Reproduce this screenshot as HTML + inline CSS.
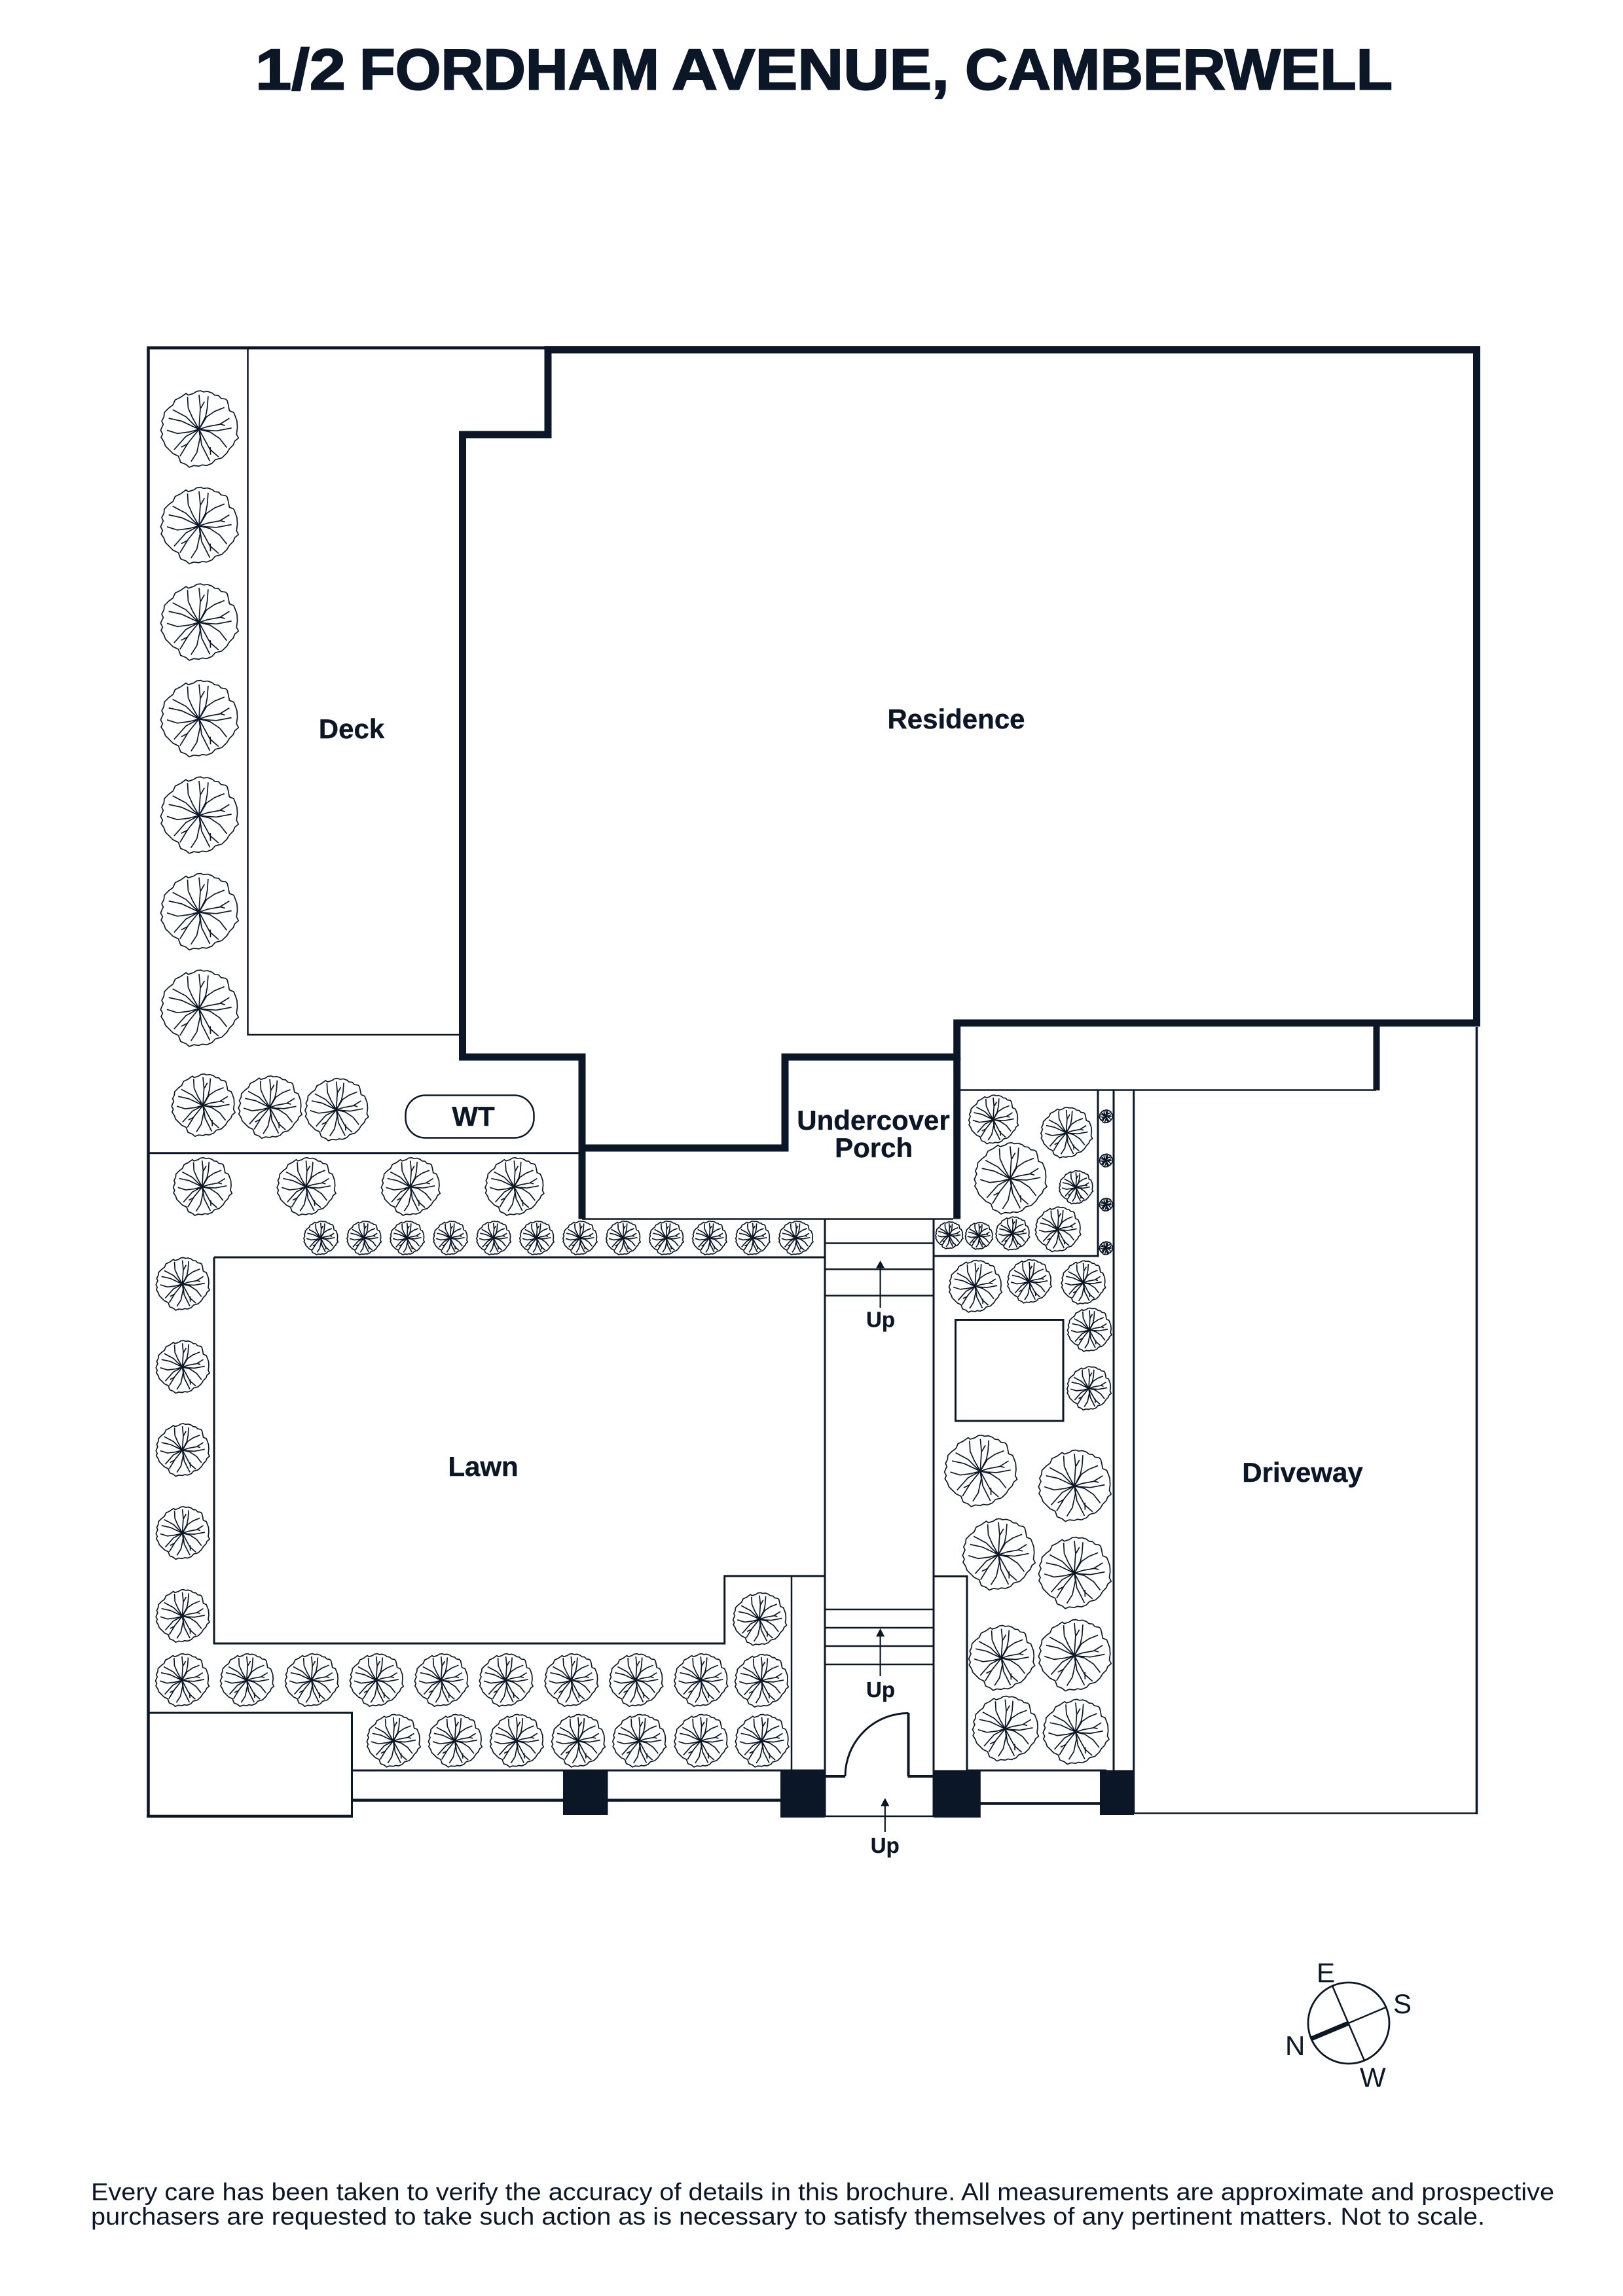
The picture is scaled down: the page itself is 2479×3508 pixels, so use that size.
<!DOCTYPE html>
<html lang="en">
<head>
<meta charset="utf-8">
<title>1/2 Fordham Avenue, Camberwell</title>
<style>
html,body{margin:0;padding:0;background:#fff}
svg{display:block}
text{font-family:"Liberation Sans",Arial,sans-serif;fill:#0b1727}
.b{font-weight:700;font-size:42px;text-anchor:middle;stroke:#0b1727;stroke-width:.4px}
.u{font-weight:700;font-size:33px;text-anchor:middle;stroke:#0b1727;stroke-width:.3px}
.c{font-size:42px}
.f{font-size:37px}
.ti{font-size:88px;font-weight:700;stroke:#0b1727;stroke-width:2px}
.l{fill:none;stroke:#0b1727;stroke-width:2.5}
.m{fill:none;stroke:#0b1727;stroke-width:3}
.h{fill:none;stroke:#0b1727;stroke-width:4.5}
.w{fill:none;stroke:#0b1727;stroke-width:11;stroke-linejoin:miter;stroke-linecap:butt}
.tr path{vector-effect:non-scaling-stroke;stroke:#0b1727;stroke-width:1.7;stroke-linejoin:round;stroke-linecap:butt}
</style>
</head>
<body>
<svg xmlns="http://www.w3.org/2000/svg" width="2479" height="3508" viewBox="0 0 2479 3508">
<defs>
<g id="t" class="tr">
<path fill="#fff" d="M8 -178L20 -173 40 -175 60 -168 72 -158 90 -156 102 -143 122 -140 130 -133 135 -113 140 -86 160 -78 168 -58 175 -38 177 -8 173 22 182 40 165 54 158 72 140 90 128 110 105 132 75 140 60 157 35 167 15 164 0 170 -25 167 -45 175 -60 162 -85 152 -95 124 -120 112 -140 92 -155 77 -162 57 -175 37 -168 22 -177 4 -170 -13 -165 -23 -172 -38 -162 -58 -160 -78 -140 -98 -120 -113 -110 -136 -85 -148 -60 -166 -50 -158 -25 -166 -10 -176Z"/>
<path fill="none" d="M0 0L-30 -53 -50 -98 -53 -150M0 0L2 -38 6 -98 0 -160M8 -98L25 -128M0 0L30 -58 38 -98 42 -153M0 0L35 -58 72 -83 117 -101M0 0L40 -13 95 -23 140 -51M95 -25L120 -18M0 0L35 4 80 7 150 -6M0 0L50 12 95 42 128 84M0 0L12 22 50 92 90 127M52 82L53 117M0 0L5 22 12 72 50 147M0 0L5 37 -10 107 -37 149M0 0L-50 62 -88 124M-52 67L-82 82M0 0L-60 32 -115 94M0 0L-45 12 -100 19 -148 4M0 0L-80 -38 -140 -51M0 0L-25 -23 -60 -58 -122 -91"/>
</g>
<g id="r59"><use href="#t" transform="scale(.331)"/></g>
<g id="r55"><use href="#t" transform="scale(.309)"/></g>
<g id="r50"><use href="#t" transform="scale(.281)"/></g>
<g id="r48"><use href="#t" transform="scale(.27)"/></g>
<g id="r44"><use href="#t" transform="scale(.25)"/></g>
<g id="r40"><use href="#t" transform="scale(.228)"/></g>
<g id="r33"><use href="#t" transform="scale(.188)"/></g>
<g id="r26"><use href="#t" transform="scale(.146)"/></g>
<g id="r21"><use href="#t" transform="scale(.117)"/></g>
<g id="r10"><use href="#t" transform="scale(.056)"/></g>
</defs>

<text class="ti" x="390" y="136.5" textLength="138" lengthAdjust="spacingAndGlyphs">1/2</text>
<text class="ti" x="549" y="136.5" textLength="458" lengthAdjust="spacingAndGlyphs">FORDHAM</text>
<text class="ti" x="1026" y="136.5" textLength="424" lengthAdjust="spacingAndGlyphs">AVENUE,</text>
<text class="ti" x="1474" y="136.5" textLength="653" lengthAdjust="spacingAndGlyphs">CAMBERWELL</text>

<!-- site lines -->
<path class="h" d="M226.5 2777V531.5H835"/>
<path class="l" d="M378.5 531V1581H702"/>
<path class="m" d="M226 1761.7H884"/>
<path class="l" d="M889 1862.5H1456"/>
<path class="m" d="M327 1921H1260"/>
<path class="m" d="M327 1921V2511H1106.7V2408H1260"/>
<path class="l" d="M1209 2408V2705"/>
<path class="m" d="M1260 1862V2776M1426 1862V2776"/>
<path class="l" d="M1260 1899.5H1426M1260 1939.3H1426M1260 1979.5H1426M1260 2459H1426M1260 2487H1426M1260 2515H1426M1260 2543H1426M1260 2775H1426"/>
<path class="m" d="M1426 2408.5H1477V2705"/>
<path class="m" d="M1427 1919H1677V1666"/>
<path class="l" d="M1467 1665.5H2102"/>
<path class="m" d="M1701 1666V2705M1731.7 1666V2771"/>
<path d="M2255.5 1569V2772" fill="none" stroke="#0b1727" stroke-width="3.5"/>
<path class="l" d="M1731 2770.5H2256"/>
<rect x="1459.5" y="2016.5" width="164.5" height="154.5" class="m"/>
<path class="m" d="M226 2617H537.5V2775"/>
<path class="h" d="M224 2775H539"/>
<path class="m" d="M537 2705H1260M1477 2705H1690"/>
<path class="h" d="M537 2750.5H865M925 2750.5H1195M1495 2755.5H1682"/>
<path d="M1260 2714H1291M1386.5 2714H1426M1387.5 2714V2617" fill="none" stroke="#0b1727" stroke-width="4"/>
<path class="m" d="M1291 2714A96.5 96.5 0 0 1 1387.5 2617.5"/>
<rect x="619.5" y="1673.5" width="196" height="65" rx="30" ry="30" class="l"/>

<!-- building -->
<path class="w" d="M837 534.5H2255.5V1563H1461.7V1615H1199V1754H889V1615H706.5V664H837Z"/>
<path class="w" d="M889 1754V1862.5M1461.7 1615V1862.5"/>
<path d="M2102.5 1563V1666" fill="none" stroke="#0b1727" stroke-width="10"/>

<!-- pillars -->
<rect x="860" y="2705" width="68.5" height="68" fill="#0b1727"/>
<rect x="1192" y="2704.5" width="67.8" height="72.5" fill="#0b1727"/>
<rect x="1426" y="2704.5" width="71.8" height="72.5" fill="#0b1727"/>
<rect x="1680" y="2704.5" width="52" height="68.5" fill="#0b1727"/>

<!-- trees -->
<use href="#r59" x="304" y="656"/><use href="#r59" x="304" y="803.5"/><use href="#r59" x="304" y="951"/><use href="#r59" x="304" y="1098.5"/><use href="#r59" x="304" y="1246"/><use href="#r59" x="304" y="1393.5"/><use href="#r59" x="304" y="1541"/>
<use href="#r48" x="310" y="1689"/><use href="#r48" x="412" y="1692"/><use href="#r48" x="513.7" y="1695.7"/>
<use href="#r44" x="308.8" y="1813.3"/><use href="#r44" x="467.4" y="1813.3"/><use href="#r44" x="626.7" y="1813.3"/><use href="#r44" x="785.3" y="1813.3"/>
<use href="#r26" x="489.8" y="1891.7"/><use href="#r26" x="555.8" y="1891.7"/><use href="#r26" x="621.7" y="1891.7"/><use href="#r26" x="687.7" y="1891.7"/><use href="#r26" x="753.7" y="1891.7"/><use href="#r26" x="819.6" y="1891.7"/><use href="#r26" x="885.6" y="1891.7"/><use href="#r26" x="951.6" y="1891.7"/><use href="#r26" x="1017.5" y="1891.7"/><use href="#r26" x="1083.5" y="1891.7"/><use href="#r26" x="1149.5" y="1891.7"/><use href="#r26" x="1215.4" y="1891.7"/>
<use href="#r40" x="278.6" y="1962"/><use href="#r40" x="278.6" y="2088.8"/><use href="#r40" x="278.6" y="2215.7"/><use href="#r40" x="278.6" y="2342.5"/><use href="#r40" x="278.6" y="2469.3"/>
<use href="#r40" x="277.9" y="2567.3"/><use href="#r40" x="376.8" y="2567.3"/><use href="#r40" x="475.8" y="2567.3"/><use href="#r40" x="574.7" y="2567.3"/><use href="#r40" x="673.7" y="2567.3"/><use href="#r40" x="772.6" y="2567.3"/><use href="#r40" x="872.3" y="2567.3"/><use href="#r40" x="971.2" y="2567.3"/><use href="#r40" x="1070.2" y="2567.3"/><use href="#r40" x="1162.8" y="2568.3"/>
<use href="#r40" x="600.7" y="2660"/><use href="#r40" x="694.7" y="2660"/><use href="#r40" x="788.8" y="2660"/><use href="#r40" x="882.8" y="2660"/><use href="#r40" x="976.1" y="2660"/><use href="#r40" x="1070.2" y="2660"/><use href="#r40" x="1163.5" y="2660"/>
<use href="#r40" x="1160" y="2474"/>
<g><use href="#t" transform="translate(1517 1710.7) scale(.211)"/>
<use href="#t" transform="translate(1628.6 1730.8) scale(.219)"/>
<use href="#r55" x="1542.9" y="1800.9"/>
<use href="#t" transform="translate(1643.3 1814.3) scale(.144)"/>
<use href="#t" transform="translate(1615.6 1878.6) scale(.194)"/>
<use href="#t" transform="translate(1546.4 1884.8) scale(.144)"/>
<use href="#r21" x="1495.1" y="1888.4"/><use href="#r21" x="1449.6" y="1887.5"/></g>
<use href="#r10" x="1689.3" y="1705.8"/><use href="#r10" x="1689.3" y="1773.2"/><use href="#r10" x="1689.3" y="1840.6"/><use href="#r10" x="1689.3" y="1907.1"/>
<use href="#t" transform="translate(1489.3 1965.6) scale(.225)"/>
<use href="#r33" x="1571.9" y="1958"/><use href="#r33" x="1654.5" y="1959.8"/><use href="#r33" x="1663.8" y="2032"/><use href="#r33" x="1663" y="2121.4"/>
<use href="#r55" x="1497.3" y="2247.8"/><use href="#r55" x="1641" y="2270.5"/><use href="#r55" x="1525" y="2375.4"/><use href="#r55" x="1641" y="2403.6"/>
<use href="#r50" x="1529.5" y="2533.5"/><use href="#r55" x="1641" y="2529.5"/><use href="#r50" x="1535.3" y="2641.5"/><use href="#r50" x="1642.9" y="2646.4"/>

<!-- arrows -->
<path d="M1344.6 1998V1935M1344.6 2561V2498M1351.8 2799V2757" fill="none" stroke="#0b1727" stroke-width="2.2"/>
<path d="M1344.6 1926l6.5 11.5h-13zM1344.6 2488l6.5 12.5h-13zM1351.8 2747l6.5 12.5h-13z" fill="#0b1727"/>

<!-- labels -->
<text class="b" x="537" y="1128">Deck</text>
<text class="b" x="1460.5" y="1113">Residence</text>
<text class="b" x="1334" y="1726">Undercover</text>
<text class="b" x="1334.6" y="1768">Porch</text>
<text class="b" x="738" y="2255">Lawn</text>
<text class="b" x="1989.5" y="2264">Driveway</text>
<text class="b" x="723" y="1720">WT</text>
<text class="u" x="1345" y="2027.5">Up</text>
<text class="u" x="1345" y="2593">Up</text>
<text class="u" x="1351.8" y="2831">Up</text>

<!-- compass -->
<circle cx="2060" cy="3091" r="62" fill="none" stroke="#0b1727" stroke-width="2.8"/>
<path d="M2035 3034L2084.3 3149M2060 3091L2116.7 3067" fill="none" stroke="#0b1727" stroke-width="2.5"/>
<path d="M2060 3091L2002.7 3115" fill="none" stroke="#0b1727" stroke-width="7"/>
<text class="c" x="2011" y="3028.5">E</text>
<text class="c" x="2128" y="3076">S</text>
<text class="c" x="1963" y="3140">N</text>
<text class="c" x="2077" y="3188.5">W</text>

<!-- footer -->
<text class="f" x="139" y="3361.5" textLength="2235" lengthAdjust="spacingAndGlyphs">Every care has been taken to verify the accuracy of details in this brochure. All measurements are approximate and prospective</text>
<text class="f" x="139" y="3399" textLength="2129" lengthAdjust="spacingAndGlyphs">purchasers are requested to take such action as is necessary to satisfy themselves of any pertinent matters. Not to scale.</text>
</svg>
</body>
</html>
